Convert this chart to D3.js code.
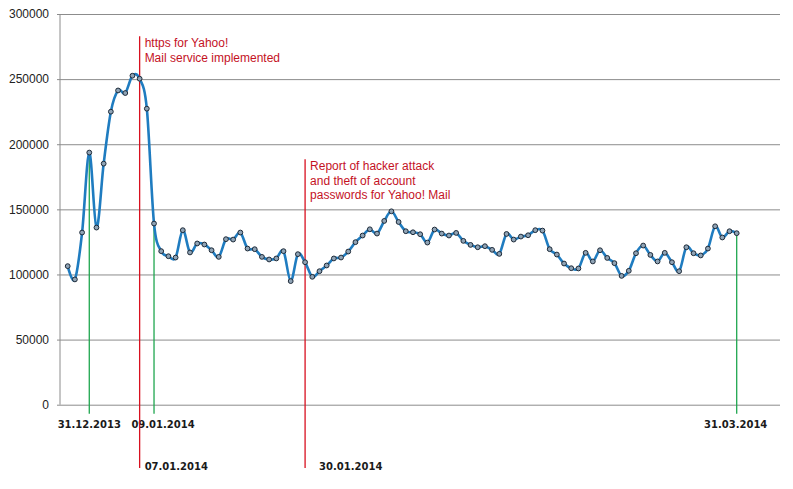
<!DOCTYPE html>
<html>
<head>
<meta charset="utf-8">
<script src="https://cdn.jsdelivr.net/npm/d3@7"></script>
<style>
  body { margin: 0; background: #fff; }
  svg { display: block; }
  .y-axis text { font-family: "Liberation Sans", Arial, sans-serif; font-size: 12px; fill: #222; }
  .y-axis line { stroke: #8c8c8c; }
  .event-label { font-family: "DejaVu Sans", Verdana, sans-serif; font-size: 10px; font-weight: bold; fill: #1a1a1a; }
  .note { font-family: "Liberation Sans", Arial, sans-serif; font-size: 12px; fill: #c4121f; }
</style>
</head>
<body>
<svg id="chart"></svg>
<script>
// daily values, 28.12.2013 .. 31.03.2014
const firstDay = new Date(2013, 11, 28);
const lastDay = new Date(2014, 2, 31);
const visits = [
  106400, 96200, 132200, 193600, 136000, 185100, 225000, 241300, 239300, 252600,
  250300, 227300, 139100, 117900, 114000, 113000, 134000, 116900, 123800, 123000,
  118600, 113500, 127100, 126800, 132200, 119900, 119400, 113500, 111500, 112300,
  117900, 94900, 115600, 109400, 98200, 102500, 106900, 112300, 113000, 117600,
  124800, 129900, 134700, 131400, 141100, 148500, 140300, 133200, 132400, 130900,
  124500, 134500, 131400, 129900, 131900, 125800, 122700, 120900, 121700, 118900,
  115800, 131100, 126800, 129100, 130100, 134000, 133700, 119400, 115300, 108400,
  104800, 104600, 116600, 110000, 118600, 112700, 108700, 98900, 102800, 116300,
  122200, 115000, 110000, 116600, 109400, 102500, 120900, 116300, 114600, 119900,
  137000, 128400, 133200, 131700,
];
const yTicks = [0, 50000, 100000, 150000, 200000, 250000, 300000];

// marked days: green = on the series, red = events
const markDates = [new Date(2013, 11, 31), new Date(2014, 0, 9), new Date(2014, 2, 31)];
const markLabels = ['31.12.2013', '09.01.2014', '31.03.2014'];
const eventDates = [new Date(2014, 0, 7), new Date(2014, 0, 30)];
const eventLabels = ['07.01.2014', '30.01.2014'];
const eventTops = [283000, 188500];
const eventNotes = [
  ['https for Yahoo!', 'Mail service implemented'],
  ['Report of hacker attack', 'and theft of account', 'passwords for Yahoo! Mail'],
];

const config = {
  width: 793,
  height: 489,
  plotLeft: 60,
  plotRight: 780,
  plotTop: 14,
  plotBottom: 404.7,
};

const days = d3.timeDay.range(firstDay, d3.timeDay.offset(lastDay, 1));
const data = days.map((d, i) => ({ date: d, value: visits[i] }));

const svg = d3.select('#chart')
  .attr('width', config.width)
  .attr('height', config.height);

const xScale = d3.scaleTime()
  .domain([firstDay, lastDay])
  .range([67.7, 736.7]);

const yScale = d3.scaleLinear()
  .domain([0, 300000])
  .range([config.plotBottom, config.plotTop]);

// gridlines + labels through one axis anchored on the right edge
const yAxis = d3.axisLeft(yScale)
  .tickValues(yTicks)
  .tickFormat(d3.format('d'))
  .tickSize(config.plotRight - config.plotLeft + 3)
  .tickPadding(8);

svg.append('g')
  .attr('class', 'y-axis')
  .attr('transform', `translate(${config.plotRight},0)`)
  .call(yAxis)
  .call((g) => g.select('.domain').remove());

svg.append('line')
  .attr('x1', config.plotLeft).attr('x2', config.plotLeft)
  .attr('y1', config.plotTop).attr('y2', config.plotBottom)
  .attr('stroke', '#8c8c8c');

// green drop lines from the point to below the axis
const valueAt = (date) => data.find((d) => +d.date === +date).value;
const labelShift = [0, 9, -1];
markDates.forEach((date, i) => {
  const x = xScale(date);
  svg.append('line')
    .attr('x1', x).attr('x2', x)
    .attr('y1', yScale(valueAt(date)))
    .attr('y2', config.plotBottom + 9)
    .attr('stroke', '#1fa64f')
    .attr('stroke-width', 1.3);
  svg.append('text')
    .attr('class', 'event-label')
    .attr('x', x + labelShift[i])
    .attr('y', 428)
    .attr('text-anchor', 'middle')
    .text(markLabels[i]);
});

// red event lines
const noteShift = [5, 5];
const dateShift = [5, 14];
eventDates.forEach((date, i) => {
  const x = xScale(date);
  const top = yScale(eventTops[i]);
  svg.append('line')
    .attr('x1', x).attr('x2', x)
    .attr('y1', top)
    .attr('y2', 468)
    .attr('stroke', '#d8101f')
    .attr('stroke-width', 1.3);
  svg.append('text')
    .attr('class', 'event-label')
    .attr('x', x + dateShift[i])
    .attr('y', 470)
    .text(eventLabels[i]);
  const note = svg.append('text')
    .attr('class', 'note')
    .attr('x', x + noteShift[i])
    .attr('y', top + 11);
  eventNotes[i].forEach((line, j) => {
    note.append('tspan')
      .attr('x', x + noteShift[i])
      .attr('dy', j === 0 ? 0 : 14.5)
      .text(line);
  });
});

// smoothed series
const line = d3.line()
  .x((d) => xScale(d.date))
  .y((d) => yScale(d.value))
  .curve(d3.curveCardinal.tension(0));

svg.append('path')
  .datum(data)
  .attr('fill', 'none')
  .attr('stroke', '#1f7cc0')
  .attr('stroke-width', 2.6)
  .attr('d', line);

svg.append('g')
  .selectAll('circle')
  .data(data)
  .join('circle')
  .attr('cx', (d) => xScale(d.date))
  .attr('cy', (d) => yScale(d.value))
  .attr('r', 2.4)
  .attr('fill', '#8fa3b5')
  .attr('stroke', '#1e2a38')
  .attr('stroke-width', 1);
</script>
</body>
</html>
